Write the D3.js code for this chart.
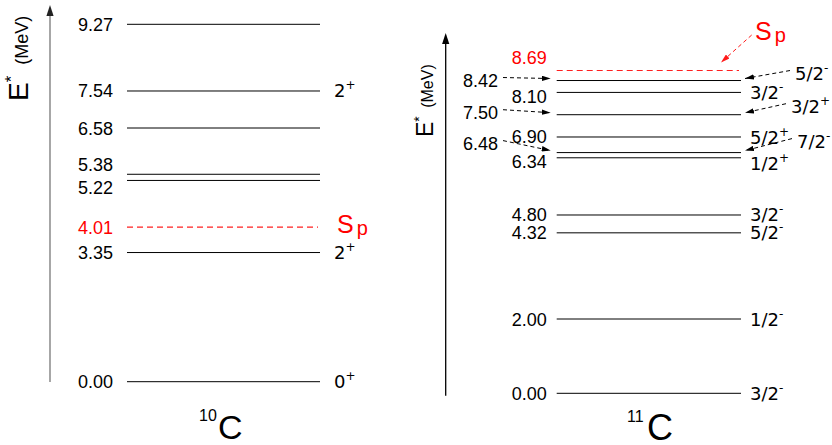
<!DOCTYPE html>
<html>
<head>
<meta charset="utf-8">
<script src="https://cdn.jsdelivr.net/npm/d3@7"></script>
<style>
  html, body { margin: 0; padding: 0; background: #fff; }
  svg { display: block; }
  text { font-family: "Liberation Sans", Arial, Helvetica, sans-serif; }
  .spin { font-family: "DejaVu Sans", Verdana, sans-serif; }
</style>
</head>
<body>
<svg id="chart" width="832" height="445"></svg>
<script>
// Excitation energies (MeV) and spin-parity assignments
const c10Energy = [0.00, 3.35, 5.22, 5.38, 6.58, 7.54, 9.27];
const c10Spin   = ["0+", "2+", "", "", "", "2+", ""];
const c10Sp     = 4.01;

const c11Energy = [0.00, 2.00, 4.32, 4.80, 6.34, 6.48, 6.90, 7.50, 8.10, 8.42];
const c11Spin   = ["3/2-", "1/2-", "5/2-", "3/2-", "1/2+", "7/2-", "5/2+", "3/2+", "3/2-", "5/2-"];
const c11Sp     = 8.69;

// Levels whose labels are set off to the side with arrows
const c11Callouts = [6.48, 7.50, 8.42];

const nuclei = [
  { mass: "10", name: "C", energy: c10Energy, spin: c10Spin, sp: c10Sp, callouts: [] },
  { mass: "11", name: "C", energy: c11Energy, spin: c11Spin, sp: c11Sp, callouts: c11Callouts }
];

const svg = d3.select("#chart");
const defs = svg.append("defs");

function marker(id, color) {
  defs.append("marker")
    .attr("id", id)
    .attr("viewBox", "0 0 10 6")
    .attr("refX", 10).attr("refY", 3)
    .attr("markerWidth", 9).attr("markerHeight", 5.5)
    .attr("markerUnits", "userSpaceOnUse")
    .attr("orient", "auto")
    .append("path").attr("d", "M0,0 L10,3 L0,6 Z").attr("fill", color);
}
marker("headBlack", "#000");
marker("headRed", "#ff1a1a");

// Panel layout
const panels = [
  {
    axisX: 50, axisColor: "#777", headColor: "#222", axisTop: 5, axisBottom: 382,
    y: d3.scaleLinear().domain([0, d3.max(c10Energy)]).range([381.7, 24.3]),
    x0: 127, x1: 320, labelRight: 113, spinX: 334,
    eDy: { "5.38": -10, "5.22": 7 }, sDy: {}, calloutSpinX: {},
    yLabel: { x: 28, y: 101, eSize: 28, mSize: 18, gap: 6 },
    title: { x: 218, y: 439, supX: 199, size: 34 }
  },
  {
    axisX: 445.7, axisColor: "#000", headColor: "#000", axisTop: 33, axisBottom: 395.7,
    y: d3.scaleLinear().domain([0, c11Sp]).range([393.3, 70.5]),
    x0: 556.7, x1: 741, labelRight: 546.7, spinX: 750,
    calloutLabelRight: 498,
    calloutSpinX: { "8.42": 795, "7.50": 791, "6.48": 797 },
    eDy: { "8.10": 4, "6.34": 4, "8.42": 0, "7.50": -2, "6.48": -9 },
    sDy: { "6.34": 6, "6.90": 1, "8.42": -7, "7.50": -8, "6.48": -11 },
    yLabel: { x: 433, y: 137, eSize: 23, mSize: 16, gap: 4 },
    title: { x: 647, y: 440, supX: 627, size: 36 }
  }
];

function addSpinText(sel, str) {
  const base = str.slice(0, -1), sup = str.slice(-1);
  sel.append("tspan").text(base);
  sel.append("tspan").attr("font-size", 12).attr("dy", -8).text(sup);
}

nuclei.forEach((nuc, i) => {
  const p = panels[i];
  const g = svg.append("g");
  const y = p.y;
  const key = v => v.toFixed(2);

  // Energy axis with arrow head
  g.append("line")
    .attr("x1", p.axisX).attr("x2", p.axisX)
    .attr("y1", p.axisBottom).attr("y2", p.axisTop + 10)
    .attr("stroke", p.axisColor).attr("stroke-width", 1.3);
  g.append("path")
    .attr("d", `M${p.axisX - 3.6},${p.axisTop + 11} L${p.axisX},${p.axisTop} L${p.axisX + 3.6},${p.axisTop + 11} Z`)
    .attr("fill", p.headColor);

  // Axis title E* (MeV), rotated
  const yl = g.append("text")
    .attr("transform", `translate(${p.yLabel.x},${p.yLabel.y}) rotate(-90)`)
    .attr("font-size", p.yLabel.eSize);
  yl.append("tspan").text("E");
  yl.append("tspan").attr("font-size", p.yLabel.eSize * 0.6).attr("dy", -p.yLabel.eSize * 0.4).text("*");
  yl.append("tspan").attr("font-size", p.yLabel.mSize)
    .attr("dx", p.yLabel.gap).attr("dy", p.yLabel.eSize * 0.4).text(" (MeV)");

  // Levels
  g.selectAll("line.level").data(nuc.energy).join("line")
    .attr("class", "level")
    .attr("x1", p.x0).attr("x2", p.x1)
    .attr("y1", d => y(d)).attr("y2", d => y(d))
    .attr("stroke", "#000").attr("stroke-width", 1);

  // Energy and spin labels
  nuc.energy.forEach((e, j) => {
    const isCallout = nuc.callouts.includes(e);
    const cy = y(e) + (p.eDy[key(e)] || 0);
    const xr = isCallout ? p.calloutLabelRight : p.labelRight;
    g.append("text")
      .attr("x", xr).attr("y", cy + 6.5)
      .attr("text-anchor", "end").attr("font-size", 18)
      .text(key(e));
    if (isCallout) {
      g.append("line")
        .attr("x1", xr + 5).attr("y1", cy - 3)
        .attr("x2", p.x0 - 6).attr("y2", y(e) - 2)
        .attr("stroke", "#000").attr("stroke-width", 1)
        .attr("stroke-dasharray", "4,3")
        .attr("marker-end", "url(#headBlack)");
    }
    const s = nuc.spin[j];
    if (s) {
      const sy = y(e) + (p.sDy[key(e)] || 0);
      const sx = isCallout ? p.calloutSpinX[key(e)] : p.spinX;
      const t = g.append("text").attr("class", "spin")
        .attr("x", sx).attr("y", sy + 6.5).attr("font-size", 18);
      addSpinText(t, s);
      if (isCallout) {
        g.append("line")
          .attr("x1", sx - 5).attr("y1", sy - 3)
          .attr("x2", p.x1 + 4).attr("y2", y(e) - 2)
          .attr("stroke", "#000").attr("stroke-width", 1)
          .attr("stroke-dasharray", "4,3")
          .attr("marker-end", "url(#headBlack)");
      }
    }
  });

  // Proton separation energy
  const ys = y(nuc.sp);
  g.append("line")
    .attr("x1", p.x0).attr("x2", p.x1 - 2)
    .attr("y1", ys).attr("y2", ys)
    .attr("stroke", "#ff2020").attr("stroke-width", 1.1)
    .attr("stroke-dasharray", "6,4");
  g.append("text")
    .attr("x", p.labelRight)
    .attr("y", i === 0 ? ys + 6.5 : ys - 12.6 + 6.5)
    .attr("text-anchor", "end").attr("font-size", 18).attr("fill", "#ff0000")
    .text(key(nuc.sp));

  let spX, spY;
  if (i === 0) {
    spX = 337; spY = ys + 5.6;
  } else {
    spX = 755; spY = 40;
    g.append("line")
      .attr("x1", 751.7).attr("y1", 35)
      .attr("x2", p.x1 - 20).attr("y2", ys - 8)
      .attr("stroke", "#ff1a1a").attr("stroke-width", 1)
      .attr("stroke-dasharray", "4,3")
      .attr("marker-end", "url(#headRed)");
  }
  const sp = g.append("text").attr("x", spX).attr("y", spY)
    .attr("fill", "#ff0000").attr("font-size", 25);
  sp.append("tspan").text("S");
  sp.append("tspan").attr("font-size", 20).attr("dx", 3).attr("dy", 2).text("p");

  // Nucleus name
  g.append("text")
    .attr("x", p.title.supX).attr("y", p.title.y - 18)
    .attr("font-size", 16).text(nuc.mass);
  g.append("text")
    .attr("x", p.title.x).attr("y", p.title.y)
    .attr("font-size", p.title.size).text(nuc.name);
});
</script>
</body>
</html>
